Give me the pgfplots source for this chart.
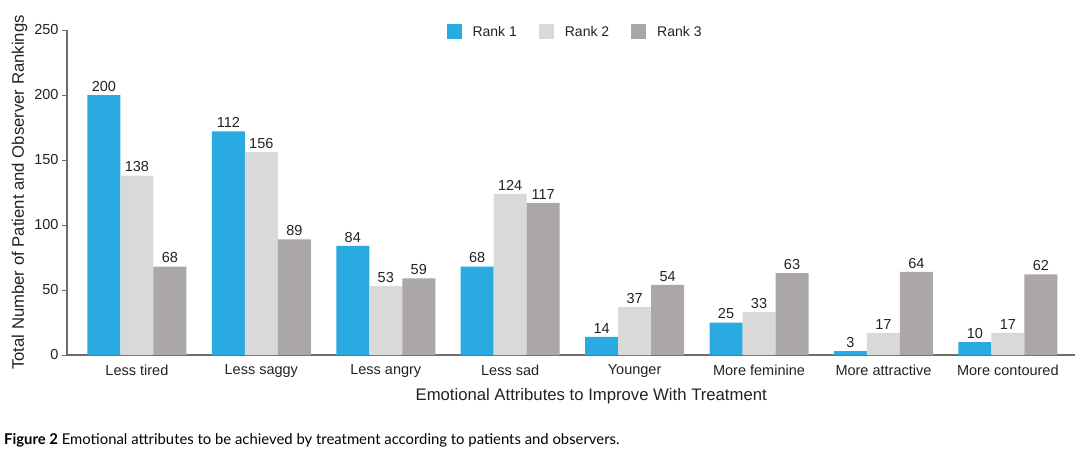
\documentclass[border=0pt]{standalone}
\usepackage{pgfplots}
\pgfplotsset{compat=1.18}
\usepackage{fontspec}
\setmainfont{Liberation Sans}
\newfontfamily\capfont{Lato}
\definecolor{rA}{HTML}{29ABE2}
\definecolor{rB}{HTML}{D9D9D9}
\definecolor{rC}{HTML}{ABA7A6}
\definecolor{axgray}{HTML}{6E6E6E}
\definecolor{txt}{HTML}{222222}
\pgfplotstableread{
x y lab
0 200 200
1 172 112
2 84 84
3 68 68
4 14 14
5 25 25
6 3 3
7 10 10
}\rankA
\pgfplotstableread{
x y lab
0 138 138
1 156 156
2 53 53
3 124 124
4 37 37
5 33 33
6 17 17
7 17 17
}\rankB
\pgfplotstableread{
x y lab
0 68 68
1 89 89
2 59 59
3 117 117
4 54 54
5 63 63
6 64 64
7 62 62
}\rankC
\begin{document}
\begin{tikzpicture}[x=1pt,y=1pt]
\path[use as bounding box] (0,0) rectangle (1080,451);
\begin{axis}[
  at={(67pt,96pt)}, anchor=south west,
  scale only axis, width=1008pt, height=325pt,
  ybar=0pt, bar width=33pt,
  ymin=0, ymax=250, xmin=-0.562, xmax=7.54,
  xtick={0,...,7},
  xticklabels={Less tired, Less saggy, Less angry, Less sad, Younger, More feminine, More attractive, More contoured},
  ytick={0,50,100,150,200,250},
  axis x line*=bottom, axis y line*=left,
  axis line style={axgray, line width=1.2pt, -},
  xtick style={draw=none},
  ytick style={axgray, line width=1pt},
  tick align=outside, major tick length=5pt,
  /pgf/number format/assume math mode=true,
  tick label style={font=\fontsize{14.5}{16}\selectfont, text=txt},
  xticklabel style={yshift=-1pt},
  ylabel={Total Number of Patient and Observer Rankings},
  xlabel={Emotional Attributes to Improve With Treatment},
  label style={font=\fontsize{16.7}{19}\selectfont, text=txt},
  ylabel style={at={(axis description cs:-0.047,0.5)}, anchor=center},
  xlabel style={at={(axis description cs:0.52,0)}, anchor=center, yshift=-41pt},
  nodes near coords, point meta=explicit symbolic,
  every node near coord/.append style={font=\fontsize{14.5}{16}\selectfont, text=txt},
  legend columns=3,
  legend style={draw=none, fill=none, at={(0.504,0.994)}, anchor=center,
    font=\fontsize{14}{16}\selectfont, text=txt,
    /tikz/every odd column/.append style={column sep=9pt},
    /tikz/every even column/.append style={column sep=20pt}},
  legend image code/.code={\fill[#1] (0pt,-7.5pt) rectangle (15pt,7.5pt);},
]
\addplot[fill=rA, draw=none] table[x=x, y=y, meta=lab] {\rankA};
\addplot[fill=rB, draw=none] table[x=x, y=y, meta=lab] {\rankB};
\addplot[fill=rC, draw=none] table[x=x, y=y, meta=lab] {\rankC};
\legend{Rank 1, Rank 2, Rank 3}
\end{axis}
\node[anchor=west, inner sep=0pt, text=black] at (4,11) {\capfont\fontsize{14.85}{17}\selectfont\textbf{Figure 2} Emotional attributes to be achieved by treatment according to patients and observers.};
\end{tikzpicture}
\end{document}
